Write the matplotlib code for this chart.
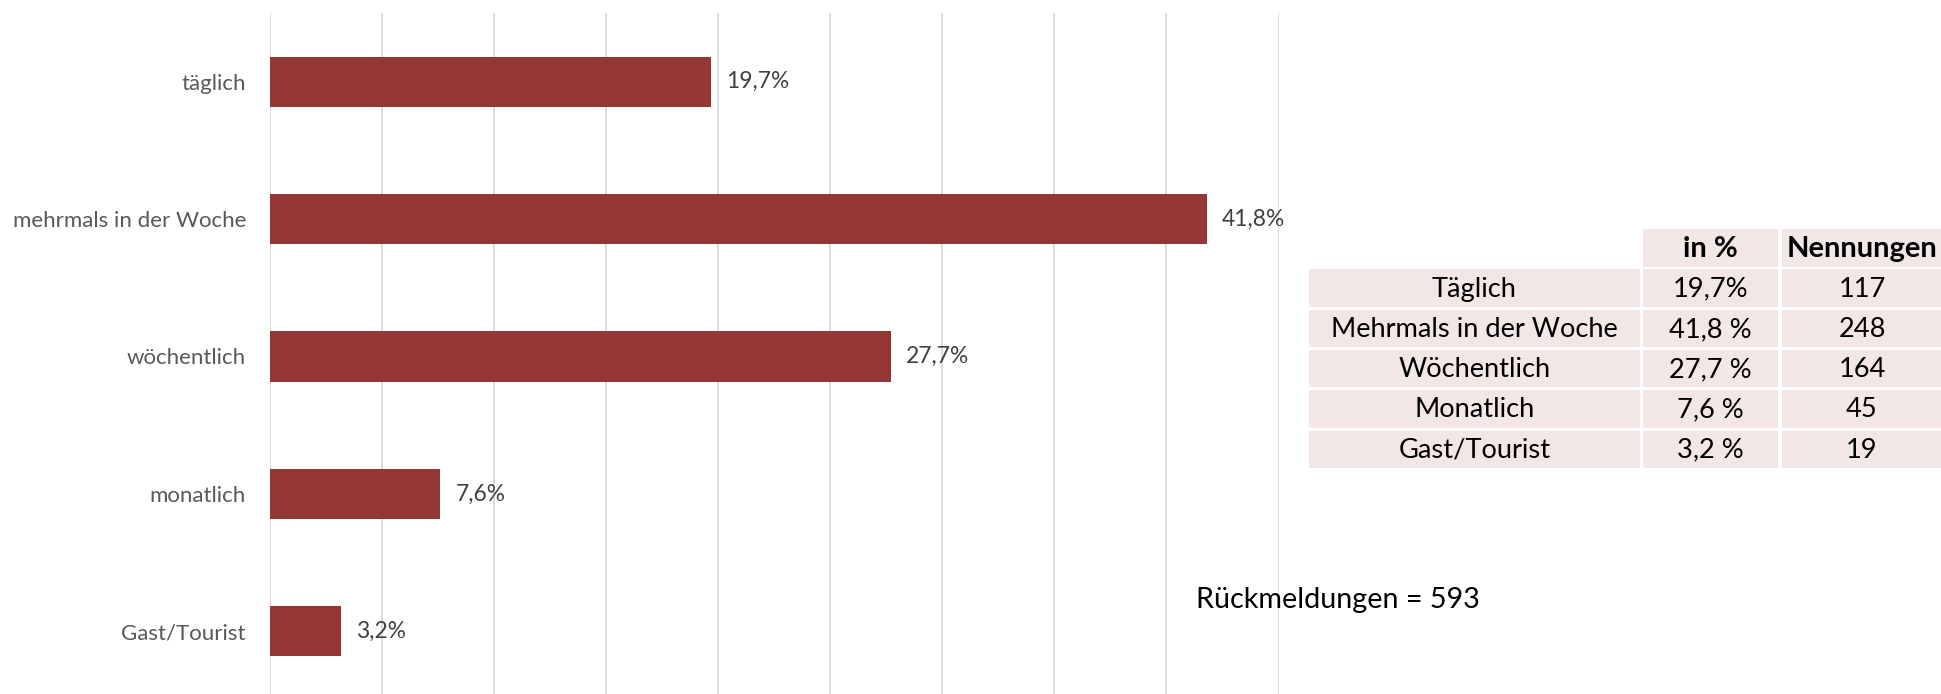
import matplotlib
matplotlib.use("Agg")
import matplotlib.pyplot as plt
from matplotlib.patches import Rectangle

# data
categories = ["täglich", "mehrmals in der Woche", "wöchentlich", "monatlich", "Gast/Tourist"]
shares = [19.7, 41.8, 27.7, 7.6, 3.2]
share_labels = ["19,7%", "41,8%", "27,7%", "7,6%", "3,2%"]

table_rows = ["Täglich", "Mehrmals in der Woche", "Wöchentlich", "Monatlich", "Gast/Tourist"]
table_pct = ["19,7%", "41,8 %", "27,7 %", "7,6 %", "3,2 %"]
table_count = ["117", "248", "164", "45", "19"]
table_header = ["", "in %", "Nennungen"]
total_text = "Rückmeldungen = 593"

BAR = "#943634"
GRID = "#d9d9d9"
CELL = "#f2e6e6"
FONT = "Lato"

W, H = 1941, 694
fig = plt.figure(figsize=(W / 100, H / 100), dpi=100)

# bar chart, bottom runs a bit past the picture edge like the original crop
ax = fig.add_axes([269.6 / W, 1 - 700 / H, (1278.6 - 269.6) / W, 687 / H])
y = list(range(len(categories)))
ax.barh(y, shares, height=0.365, color=BAR, zorder=3)
ax.set_xlim(0, 45)
ax.set_ylim(len(categories) - 0.5, -0.5)
ax.set_xticks([i * 5 for i in range(10)])
ax.set_xticklabels([])
ax.set_yticks(y)
ax.set_yticklabels(categories, fontsize=16, color="#595959", family=FONT)
ax.tick_params(axis="both", length=0)
ax.tick_params(axis="y", pad=17)
ax.grid(axis="x", color=GRID, linewidth=1.3, zorder=0)
for s in ax.spines.values():
    s.set_visible(False)
for yi, v, lab in zip(y, shares, share_labels):
    ax.annotate(lab, (v, yi), xytext=(11, 0), textcoords="offset points",
                va="center", ha="left", fontsize=16.4, color="#404040", family=FONT)

# overlay in pixel coordinates for the little table and the note
ov = fig.add_axes([0, 0, 1, 1], facecolor="none")
ov.set_xlim(0, W)
ov.set_ylim(H, 0)
ov.axis("off")

col_x = [1309, 1643, 1781.5]
col_w = [331, 135, 175]
row_top = 229
row_pitch = 40.3
row_h = 37.5

rows = [table_header] + [[a, b, c] for a, b, c in zip(table_rows, table_pct, table_count)]
for r, row in enumerate(rows):
    top = row_top + r * row_pitch
    for c, txt in enumerate(row):
        if r == 0 and c == 0:
            continue
        ov.add_patch(Rectangle((col_x[c], top), col_w[c], row_h, facecolor=CELL, edgecolor="none"))
        cx = col_x[c] + col_w[c] / 2 if c < 2 else 1862
        ov.text(cx, top + row_h / 2 + 1, txt, ha="center", va="center",
                fontsize=21 if r == 0 else 19.6, family=FONT, color="black",
                fontweight="bold" if r == 0 else "normal")

ov.text(1196, 600, total_text, ha="left", va="center", fontsize=20.7, family=FONT, color="black")

fig.savefig("out.png", dpi=100)
